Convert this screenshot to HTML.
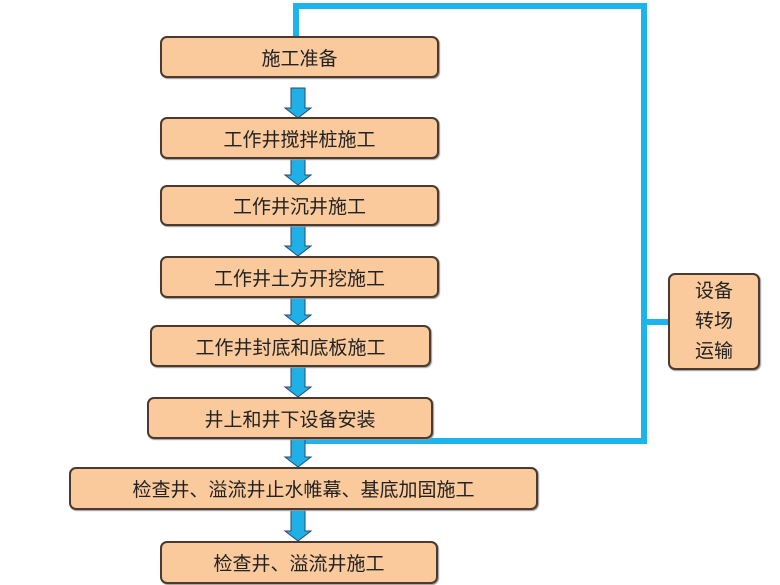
<!DOCTYPE html>
<html><head><meta charset="utf-8"><style>
body{margin:0;width:780px;height:585px;background:#fff;position:relative;overflow:hidden;font-family:"Liberation Sans","Noto Sans CJK SC",sans-serif}
.b{position:absolute;background:#fac99c;border:2px solid #4a3a30;border-radius:7px;box-sizing:border-box;display:flex;align-items:center;justify-content:center;font-size:19px;color:#222;box-shadow:1px 1px 1px #999}
svg{position:absolute;left:0;top:0}
</style></head><body>
<svg width="780" height="585">
<polyline points="296,38 296,6 644,6 644,441 296,441" fill="none" stroke="#1cb4ec" stroke-width="6"/>
<line x1="644" y1="322" x2="670" y2="322" stroke="#1cb4ec" stroke-width="6"/>
<g fill="#1fb0e8" stroke="#2a4a6a" stroke-width="1">
<path d="M291,88 h14 v20 h6 l-13,10 l-13,-10 h6z"/>
<path d="M291,159 h14 v16 h6 l-13,10 l-13,-10 h6z"/>
<path d="M291,226 h14 v20 h6 l-13,10 l-13,-10 h6z"/>
<path d="M291,298 h14 v17 h6 l-13,10 l-13,-10 h6z"/>
<path d="M291,367 h14 v20 h6 l-13,10 l-13,-10 h6z"/>
<path d="M291,439 h14 v18 h6 l-13,10 l-13,-10 h6z"/>
<path d="M291,510 h14 v21 h6 l-13,10 l-13,-10 h6z"/>
</g>
</svg>
<div class="b" style="left:160px;top:36px;width:279px;height:42px">施工准备</div>
<div class="b" style="left:160px;top:117px;width:279px;height:42px">工作井搅拌桩施工</div>
<div class="b" style="left:160px;top:185px;width:279px;height:41px">工作井沉井施工</div>
<div class="b" style="left:160px;top:256px;width:279px;height:42px">工作井土方开挖施工</div>
<div class="b" style="left:150px;top:325px;width:281px;height:42px">工作井封底和底板施工</div>
<div class="b" style="left:147px;top:397px;width:286px;height:42px">井上和井下设备安装</div>
<div class="b" style="left:69px;top:467px;width:469px;height:43px">检查井、溢流井止水帷幕、基底加固施工</div>
<div class="b" style="left:160px;top:541px;width:278px;height:43px">检查井、溢流井施工</div>
<div class="b" style="left:668px;top:273px;width:92px;height:97px;line-height:30px;text-align:center">设备<br>转场<br>运输</div>
</body></html>
